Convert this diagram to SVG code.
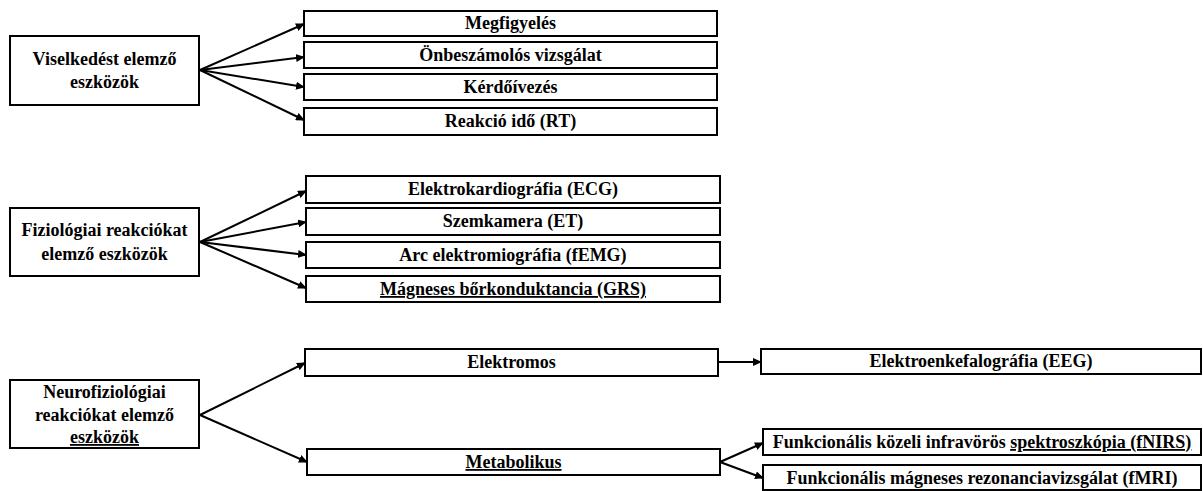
<svg xmlns="http://www.w3.org/2000/svg" width="1203" height="491" viewBox="0 0 1203 491">
  <defs>
    <marker id="arrow" markerWidth="9" markerHeight="8" refX="8" refY="4" orient="auto" markerUnits="userSpaceOnUse">
      <path d="M0,0 L9,4 L0,8 Z" fill="#000"/>
    </marker>
    <style>
      .box { fill: #fff; stroke: #000; stroke-width: 2; }
      .lbl { font-family: "Times New Roman", "Liberation Serif", serif; font-weight: 700; font-size: 18px; fill: #000; text-anchor: middle; }
      .ul { text-decoration: underline; }
      .conn line { stroke: #000; stroke-width: 2; marker-end: url(#arrow); }
    </style>
  </defs>
  <rect width="1203" height="491" fill="#fff"/>

  <!-- connectors -->
  <g id="connectors" class="conn">
    <line x1="200" y1="70" x2="304" y2="24"/>
    <line x1="200" y1="70" x2="304" y2="57"/>
    <line x1="200" y1="70" x2="304" y2="87"/>
    <line x1="200" y1="70" x2="304" y2="120"/>

    <line x1="200" y1="242" x2="306" y2="191"/>
    <line x1="200" y1="242" x2="306" y2="222"/>
    <line x1="200" y1="242" x2="306" y2="255"/>
    <line x1="200" y1="242" x2="306" y2="288"/>

    <line x1="200" y1="415" x2="305" y2="363"/>
    <line x1="200" y1="415" x2="307" y2="462"/>

    <line x1="718" y1="362" x2="761" y2="362"/>
    <line x1="720" y1="462" x2="763" y2="443"/>
    <line x1="720" y1="462" x2="763" y2="478"/>
  </g>

  <!-- behaviour analysis -->
  <g id="n-viselkedes">
    <rect class="box" x="10" y="36" width="189" height="69"/>
    <text class="lbl" x="104.5" y="65">Viselkedést elemző</text>
    <text class="lbl" x="104.5" y="88">eszközök</text>
  </g>
  <g id="n-megfigyeles">
    <rect class="box" x="304" y="11" width="413" height="25"/>
    <text class="lbl" x="510.5" y="29">Megfigyelés</text>
  </g>
  <g id="n-onbeszamolos">
    <rect class="box" x="304" y="42" width="413" height="26"/>
    <text class="lbl" x="510.5" y="61">Önbeszámolós vizsgálat</text>
  </g>
  <g id="n-kerdoivezes">
    <rect class="box" x="304" y="74" width="413" height="26"/>
    <text class="lbl" x="510.5" y="93">Kérdőívezés</text>
  </g>
  <g id="n-reakcioido">
    <rect class="box" x="304" y="108" width="413" height="27"/>
    <text class="lbl" x="510.5" y="127">Reakció idő (RT)</text>
  </g>

  <!-- physiological -->
  <g id="n-fiziologiai">
    <rect class="box" x="10" y="208" width="189" height="68"/>
    <text class="lbl" x="104.5" y="236">Fiziológiai reakciókat</text>
    <text class="lbl" x="104.5" y="260">elemző eszközök</text>
  </g>
  <g id="n-ecg">
    <rect class="box" x="306" y="176" width="414" height="27"/>
    <text class="lbl" x="513" y="195">Elektrokardiográfia (ECG)</text>
  </g>
  <g id="n-et">
    <rect class="box" x="306" y="208" width="414" height="27"/>
    <text class="lbl" x="513" y="227">Szemkamera (ET)</text>
  </g>
  <g id="n-femg">
    <rect class="box" x="306" y="242" width="414" height="26"/>
    <text class="lbl" x="513" y="261">Arc elektromiográfia (fEMG)</text>
  </g>
  <g id="n-grs">
    <rect class="box" x="306" y="276" width="414" height="26"/>
    <text class="lbl ul" x="513" y="295">Mágneses bőrkonduktancia (GRS)</text>
  </g>

  <!-- neurophysiological -->
  <g id="n-neurofiziologiai">
    <rect class="box" x="10" y="380" width="189" height="68"/>
    <text class="lbl" x="104.5" y="398">Neurofiziológiai</text>
    <text class="lbl" x="104.5" y="421">reakciókat elemző</text>
    <text class="lbl ul" x="104.5" y="443">eszközök</text>
  </g>
  <g id="n-elektromos">
    <rect class="box" x="305" y="349" width="413" height="27"/>
    <text class="lbl" x="511.5" y="368">Elektromos</text>
  </g>
  <g id="n-metabolikus">
    <rect class="box" x="307" y="449" width="413" height="26"/>
    <text class="lbl ul" x="513.5" y="468">Metabolikus</text>
  </g>
  <g id="n-eeg">
    <rect class="box" x="761" y="349" width="440" height="25"/>
    <text class="lbl" x="981" y="367">Elektroenkefalográfia (EEG)</text>
  </g>
  <g id="n-fnirs">
    <rect class="box" x="763" y="429" width="438" height="26"/>
    <text class="lbl" x="982" y="448">Funkcionális közeli infravörös <tspan class="ul">spektroszkópia (fNIRS)</tspan></text>
  </g>
  <g id="n-fmri">
    <rect class="box" x="763" y="465" width="438" height="25"/>
    <text class="lbl" x="982" y="484">Funkcionális mágneses rezonanciavizsgálat (fMRI)</text>
  </g>
</svg>
